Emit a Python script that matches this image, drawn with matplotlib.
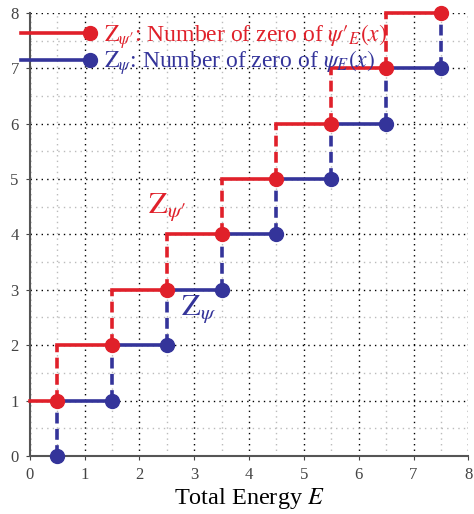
import numpy as np
import matplotlib
matplotlib.use("Agg")
import matplotlib.pyplot as plt
from matplotlib.legend_handler import HandlerLine2D

plt.rcParams['font.family'] = ['Liberation Serif', 'DejaVu Serif']
plt.rcParams['mathtext.fontset'] = 'stix'

# data: energy levels and number of zeros
energy = [0.5, 1.5, 2.5, 3.5, 4.5, 5.5, 6.5, 7.5]
zeros_psi = [0, 1, 2, 3, 4, 5, 6, 7]        # Z_psi at each level
zeros_dpsi = [1, 2, 3, 4, 5, 6, 7, 8]       # Z_psi' at each level

red = '#e0202a'
blue = '#34349a'


class RightMarker(HandlerLine2D):
    # put the legend marker only at the right end of the line
    def create_artists(self, *args, **kwargs):
        arts = super().create_artists(*args, **kwargs)
        arts[-1].set_markevery([1])
        return arts


fig = plt.figure(figsize=(4.74, 5.14), dpi=100)
ax = fig.add_axes([0.063, 0.113, 0.925, 0.862])

# red step (Z_psi')
prev_x = 0
for i, (e, z) in enumerate(zip(energy, zeros_dpsi)):
    ax.plot([prev_x, e], [z, z], color=red, lw=2.6, zorder=3, clip_on=False)
    if i < len(energy) - 1:
        ax.plot([e, e], [z, zeros_dpsi[i + 1]], color=red, lw=2.6, ls=(0, (3, 1.5)), zorder=3)
    prev_x = e
ax.plot(energy, zeros_dpsi, 'o', color=red, ms=10, zorder=4, clip_on=False)

# blue step (Z_psi)
for i, (e, z) in enumerate(zip(energy, zeros_psi)):
    ax.plot([e, e], [z, z + 1], color=blue, lw=2.6, ls=(0, (3, 1.5)), zorder=3)
    if i < len(energy) - 1:
        ax.plot([e, energy[i + 1]], [z + 1, z + 1], color=blue, lw=2.6, zorder=3)
ax.plot(energy, zeros_psi, 'o', color=blue, ms=10, zorder=5, clip_on=False)

# legend
h1, = ax.plot([], [], color=red, lw=2.6, marker='o', ms=10)
h2, = ax.plot([], [], color=blue, lw=2.6, marker='o', ms=10)
leg = ax.legend([h1, h2],
                [r"$\mathrm{Z}_{\psi\prime}$: Number of zero of $\psi\prime_{E}(x)$",
                 r"$\mathrm{Z}_{\psi}$: Number of zero of $\psi_{E}(x)$"],
                loc='upper left', bbox_to_anchor=(-0.036, 0.98), numpoints=2,
                handler_map={h1: RightMarker(), h2: RightMarker()},
                frameon=False, fontsize=17, handlelength=3.5,
                handletextpad=0.3, labelspacing=-0.08, borderpad=0.0,
                borderaxespad=0.0)
for t, c in zip(leg.get_texts(), [red, blue]):
    t.set_color(c)

ax.text(2.15, 4.5, r"$\mathrm{Z}_{\psi\prime}$", color=red, fontsize=22, ha='left', va='center')
ax.text(2.75, 2.65, r"$\mathrm{Z}_{\psi}$", color=blue, fontsize=22, ha='left', va='center')

ax.set_xlim(0, 8)
ax.set_ylim(0, 8)
ax.set_xticks(range(9))
ax.set_yticks(range(9))
ax.set_xticks(np.arange(0.5, 8, 1), minor=True)
ax.set_yticks(np.arange(0.5, 8, 1), minor=True)
ax.grid(which='major', color='black', ls=(0, (1, 3)), lw=1.0)
ax.grid(which='minor', color='#bbbbbb', ls=(0, (1, 3)), lw=1.0)
ax.tick_params(which='major', length=3, labelsize=12, colors='#444444', pad=5)
ax.tick_params(which='minor', length=0)
for s in ['top', 'right']:
    ax.spines[s].set_visible(False)
for s in ['left', 'bottom']:
    ax.spines[s].set_color('#555555')
    ax.spines[s].set_linewidth(1.5)
ax.set_xlabel('Total Energy $E$', fontsize=17.5, labelpad=2)

fig.savefig('out.png', dpi=100)
